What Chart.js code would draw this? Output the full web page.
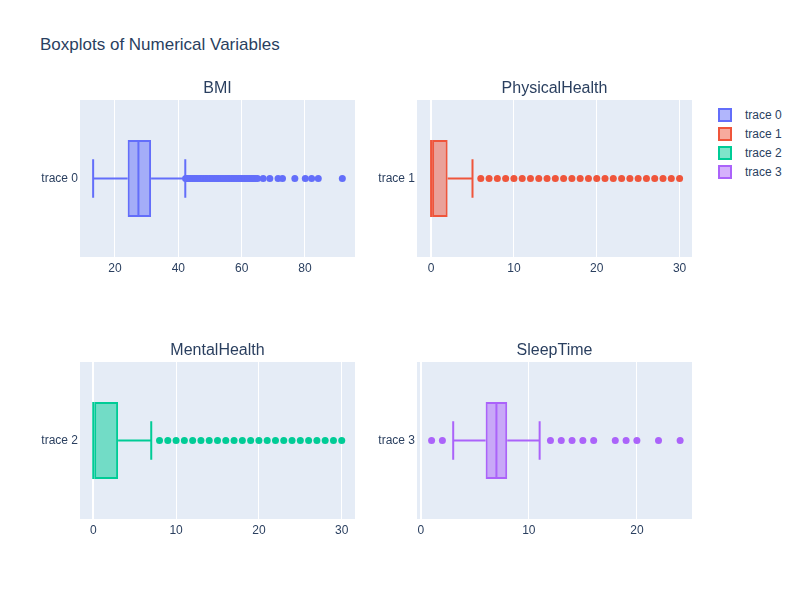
<!DOCTYPE html>
<html>
<head>
<meta charset="utf-8">
<script src="https://cdn.jsdelivr.net/npm/chart.js@4"></script>
<style>
  body { margin: 0; background: #fff; font-family: "Liberation Sans", Arial, sans-serif; }
  #page { position: relative; width: 800px; height: 600px; overflow: hidden; }
  .cell { position: absolute; width: 355px; height: 217px; }
  #title { position: absolute; left: 40px; top: 35px; font-size: 17px; color: #2a3f5f; white-space: nowrap; }
  #legend { position: absolute; left: 718px; top: 105px; font-size: 12px; color: #2a3f5f; }
  .item { height: 19px; display: flex; align-items: center; }
  .sw { width: 10px; height: 10px; border: 2px solid; margin-right: 13px; }
</style>
</head>
<body>
<div id="page">
  <div id="title">Boxplots of Numerical Variables</div>
  <div class="cell" style="left:10px;top:70px"><canvas id="c0" width="355" height="217"></canvas></div>
  <div class="cell" style="left:347px;top:70px"><canvas id="c1" width="355" height="217"></canvas></div>
  <div class="cell" style="left:10px;top:332px"><canvas id="c2" width="355" height="217"></canvas></div>
  <div class="cell" style="left:347px;top:332px"><canvas id="c3" width="355" height="217"></canvas></div>
  <div id="legend"></div>
</div>
<script>
// --- dati ---
const traceNames = ['trace 0', 'trace 1', 'trace 2', 'trace 3'];
const variableNames = ['BMI', 'PhysicalHealth', 'MentalHealth', 'SleepTime'];

const lowerFences = [13.1, 0, 0, 3];
const q1Values    = [24.0, 0, 0, 6];
const medians     = [27.4, 0, 0, 7];
const q3Values    = [31.4, 2, 3, 8];
const upperFences = [42.2, 5, 7, 11];

const bmiOutliers = [42.3, 42.8, 43.4, 43.9, 44.5, 45.1, 45.6, 46.2, 46.9, 47.4,
  48.0, 48.6, 49.1, 49.8, 50.3, 50.9, 51.5, 52.1, 52.6, 53.3, 53.8, 54.4, 55.0,
  55.6, 56.1, 56.8, 57.3, 57.9, 58.5, 59.1, 59.7, 60.2, 60.9, 61.4, 62.0, 62.6,
  63.2, 63.7, 64.3, 65.0, 66.8, 68.9, 71.5, 72.9, 76.8, 80.1, 82.1, 84.2, 91.8];
const physicalOutliers = [6, 7, 8, 9, 10, 11, 12, 13, 14, 15, 16, 17, 18, 19, 20,
  21, 22, 23, 24, 25, 26, 27, 28, 29, 30];
const mentalOutliers = [8, 9, 10, 11, 12, 13, 14, 15, 16, 17, 18, 19, 20, 21, 22,
  23, 24, 25, 26, 27, 28, 29, 30];
const sleepOutliers = [1, 2, 12, 13, 14, 15, 16, 18, 19, 20, 22, 24];
const outlierSets = [bmiOutliers, physicalOutliers, mentalOutliers, sleepOutliers];

// range degli assi x e passo dei tick
const axisMin = [8.95, -1.7, -1.6, -0.35];
const axisMax = [95.8, 31.5, 31.6, 25.1];
const tickSteps = [20, 10, 10, 10];

// colori (palette plotly)
const lineColors = ['#636efa', '#EF553B', '#00cc96', '#ab63fa'];
const fillColors = ['rgba(99,110,250,0.5)', 'rgba(239,85,59,0.5)', 'rgba(0,204,150,0.5)', 'rgba(171,99,250,0.5)'];

Chart.defaults.font.family = '"Liberation Sans", Arial, sans-serif';
Chart.defaults.font.size = 12;
Chart.defaults.color = '#2a3f5f';

// sfondo dell'area del grafico
const plotBg = {
  id: 'plotBg',
  beforeDraw(chart) {
    const { ctx, chartArea: a } = chart;
    ctx.save();
    ctx.fillStyle = '#E5ECF6';
    ctx.fillRect(a.left, a.top, a.width, a.height);
    ctx.restore();
  }
};

// baffi e mediana, disegnati con le scale di Chart.js
const whiskers = {
  id: 'whiskers',
  afterDatasetsDraw(chart, args, opts) {
    const i = opts.index;
    const bar = chart.getDatasetMeta(1).data[0];
    if (!bar) return;
    const xs = chart.scales.x;
    const { ctx } = chart;
    const cy = bar.y;
    const half = bar.height / 2;
    const cap = half / 2;
    const px = v => xs.getPixelForValue(v);
    ctx.save();
    ctx.strokeStyle = lineColors[i];
    ctx.lineWidth = 2;
    ctx.beginPath();
    if (lowerFences[i] < q1Values[i]) {
      ctx.moveTo(px(lowerFences[i]), cy); ctx.lineTo(px(q1Values[i]), cy);
      ctx.moveTo(px(lowerFences[i]), cy - cap); ctx.lineTo(px(lowerFences[i]), cy + cap);
    }
    if (upperFences[i] > q3Values[i]) {
      ctx.moveTo(px(q3Values[i]), cy); ctx.lineTo(px(upperFences[i]), cy);
      ctx.moveTo(px(upperFences[i]), cy - cap); ctx.lineTo(px(upperFences[i]), cy + cap);
    }
    ctx.moveTo(px(medians[i]), cy - half); ctx.lineTo(px(medians[i]), cy + half);
    ctx.stroke();
    ctx.restore();
  }
};

function buildChart(i) {
  const label = traceNames[i];
  return new Chart(document.getElementById('c' + i), {
    type: 'bar',
    data: {
      labels: [label],
      datasets: [
        {
          type: 'scatter',
          label: label,
          data: outlierSets[i].map(v => ({ x: v, y: label })),
          backgroundColor: lineColors[i],
          borderWidth: 0,
          pointRadius: 3.5,
          showLine: false
        },
        {
          type: 'bar',
          label: label,
          indexAxis: 'y',
          data: [[q1Values[i], q3Values[i]]],
          backgroundColor: fillColors[i],
          borderColor: lineColors[i],
          borderWidth: 2,
          borderSkipped: false,
          barPercentage: 0.49,
          categoryPercentage: 1
        }
      ]
    },
    options: {
      responsive: false,
      animation: false,
      layout: { padding: { left: 0, right: 10, top: 0, bottom: 0 } },
      scales: {
        x: {
          type: 'linear',
          min: axisMin[i],
          max: axisMax[i],
          offset: false,
          beginAtZero: false,
          afterFit: s => { s.height = 30; },
          border: { display: false },
          grid: {
            offset: false,
            color: '#ffffff',
            drawTicks: false,
            lineWidth: c => (c.tick && c.tick.value === 0 ? 2 : 1)
          },
          ticks: { stepSize: tickSteps[i], includeBounds: false, padding: 4, maxRotation: 0 }
        },
        y: {
          type: 'category',
          labels: [label],
          offset: true,
          afterFit: s => { s.width = 70; },
          border: { display: false },
          grid: { display: false, drawTicks: false },
          ticks: { padding: 2 }
        }
      },
      plugins: {
        legend: { display: false },
        tooltip: { enabled: false },
        title: {
          display: true,
          text: variableNames[i],
          fullSize: false,
          font: { size: 16, weight: 'normal' },
          color: '#2a3f5f',
          padding: { top: 9.4, bottom: 1.4 }
        },
        whiskers: { index: i }
      }
    },
    plugins: [plotBg, whiskers]
  });
}

traceNames.forEach((name, i) => buildChart(i));

// legenda comune
const legendEl = document.getElementById('legend');
traceNames.forEach((name, i) => {
  const row = document.createElement('div');
  row.className = 'item';
  const sw = document.createElement('span');
  sw.className = 'sw';
  sw.style.background = fillColors[i];
  sw.style.borderColor = lineColors[i];
  const txt = document.createElement('span');
  txt.textContent = name;
  row.appendChild(sw);
  row.appendChild(txt);
  legendEl.appendChild(row);
});
</script>
</body>
</html>
